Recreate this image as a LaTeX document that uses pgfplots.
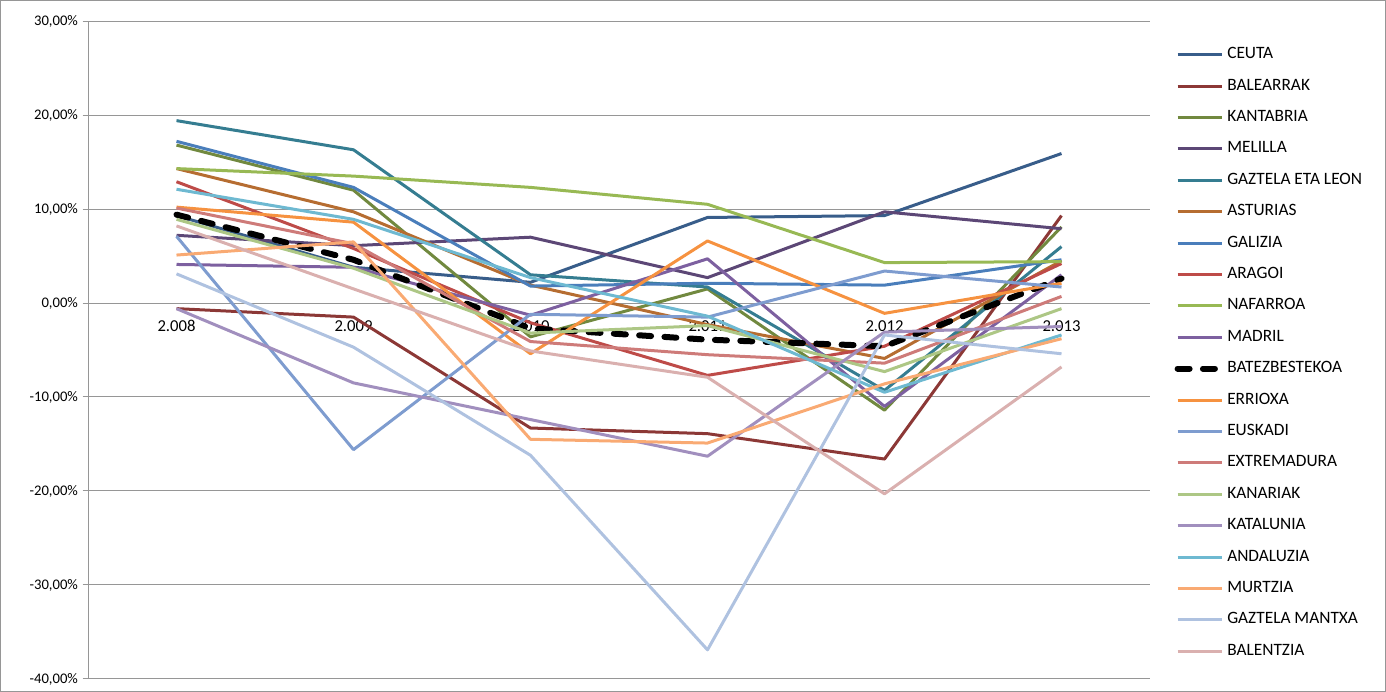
\documentclass[border=0pt]{standalone}
\usepackage{pgfplots}
\pgfplotsset{compat=1.18}
\usepackage{fontspec}
\setmainfont{Carlito}

\definecolor{ceuta}{HTML}{385D8A}
\definecolor{balearrak}{HTML}{8C3836}
\definecolor{kantabria}{HTML}{71893F}
\definecolor{melilla}{HTML}{5C4776}
\definecolor{gleon}{HTML}{357D91}
\definecolor{asturias}{HTML}{B66D31}
\definecolor{galizia}{HTML}{4A7EBB}
\definecolor{aragoi}{HTML}{BE4B48}
\definecolor{nafarroa}{HTML}{98B954}
\definecolor{madril}{HTML}{7D60A0}
\definecolor{errioxa}{HTML}{F69240}
\definecolor{euskadi}{HTML}{7E9CCF}
\definecolor{extremadura}{HTML}{CE7B79}
\definecolor{kanariak}{HTML}{ADC785}
\definecolor{katalunia}{HTML}{A18FBE}
\definecolor{andaluzia}{HTML}{6EB9D1}
\definecolor{murtzia}{HTML}{F9AA73}
\definecolor{gmantxa}{HTML}{AFC2E0}
\definecolor{balentzia}{HTML}{DAB0AF}
\definecolor{gridgray}{HTML}{969696}

\begin{document}
\begin{tikzpicture}[font=\fontsize{11}{13}\selectfont]
\draw[gridgray, line width=0.75pt] (0.375pt,0.375pt) rectangle (1039.125pt,518.625pt);
\begin{axis}[
  at={(66pt,9.75pt)}, anchor=south west,
  scale only axis, width=796.5pt, height=493.5pt,
  xmin=-0.5, xmax=5.5, ymin=-40, ymax=30,
  axis x line*=middle, axis y line*=left,
  axis line style={-, draw=gridgray, line width=0.75pt},
  xtick={0,...,5},
  xticklabels={2.008,2.009,2.010,2.011,2.012,2.013},
  xticklabel style={font=\fontsize{12.5}{14}\selectfont, yshift=-5.5pt},
  xtick style={draw=none},
  ytick={-40,-30,...,30},
  yticklabels={{-40,00\%},{-30,00\%},{-20,00\%},{-10,00\%},{0,00\%},{10,00\%},{20,00\%},{30,00\%}},
  yticklabel style={font=\fontsize{11}{13}\selectfont},
  ytick style={draw=gridgray, line width=0.75pt},
  tick align=outside, major tick length=4pt,
  ymajorgrids, grid style={draw=gridgray, line width=0.75pt},
  every axis plot/.append style={line width=2.25pt, line join=round},
  legend cell align=left,
  legend image code/.code={\draw[#1] (0pt,0pt) -- (33pt,0pt);},
  legend style={at={(1.0229,0.9635)}, anchor=north west, draw=none, fill=none,
    inner sep=0pt, row sep=9.55pt, font=\fontsize{13}{15}\selectfont,
    nodes={inner sep=2pt, text height=8pt, text depth=2pt},
    /tikz/every even column/.append style={column sep=0.5pt}},
]
\addplot[ceuta] coordinates {(0,9.3) (1,3.8) (2,2.2) (3,9.1) (4,9.3) (5,15.9)};
\addlegendentry{CEUTA}
\addplot[balearrak] coordinates {(0,-0.6) (1,-1.5) (2,-13.3) (3,-13.9) (4,-16.6) (5,9.3)};
\addlegendentry{BALEARRAK}
\addplot[kantabria] coordinates {(0,16.8) (1,12.0) (2,-3.6) (3,1.5) (4,-11.4) (5,8.1)};
\addlegendentry{KANTABRIA}
\addplot[melilla] coordinates {(0,7.2) (1,6.1) (2,7.0) (3,2.7) (4,9.7) (5,7.9)};
\addlegendentry{MELILLA}
\addplot[gleon] coordinates {(0,19.4) (1,16.3) (2,3.0) (3,1.7) (4,-9.3) (5,6.0)};
\addlegendentry{GAZTELA ETA LEON}
\addplot[asturias] coordinates {(0,14.3) (1,9.7) (2,1.9) (3,-2.3) (4,-5.9) (5,4.5)};
\addlegendentry{ASTURIAS}
\addplot[galizia] coordinates {(0,17.2) (1,12.3) (2,1.8) (3,2.1) (4,1.9) (5,4.6)};
\addlegendentry{GALIZIA}
\addplot[aragoi] coordinates {(0,12.9) (1,5.8) (2,-2.1) (3,-7.7) (4,-4.6) (5,4.2)};
\addlegendentry{ARAGOI}
\addplot[nafarroa] coordinates {(0,14.3) (1,13.5) (2,12.3) (3,10.5) (4,4.3) (5,4.4)};
\addlegendentry{NAFARROA}
\addplot[madril] coordinates {(0,4.1) (1,3.8) (2,-1.3) (3,4.7) (4,-11.0) (5,3.0)};
\addlegendentry{MADRIL}
\addplot[black, line width=4.5pt, line cap=round, dash pattern=on 9pt off 10pt] coordinates {(0,9.4) (1,4.6) (2,-2.7) (3,-3.9) (4,-4.6) (5,2.6)};
\addlegendentry{BATEZBESTEKOA}
\addplot[errioxa] coordinates {(0,10.2) (1,8.6) (2,-5.4) (3,6.6) (4,-1.1) (5,2.1)};
\addlegendentry{ERRIOXA}
\addplot[euskadi] coordinates {(0,7.1) (1,-15.6) (2,-1.2) (3,-1.5) (4,3.4) (5,1.7)};
\addlegendentry{EUSKADI}
\addplot[extremadura] coordinates {(0,10.1) (1,6.3) (2,-4.1) (3,-5.5) (4,-6.4) (5,0.7)};
\addlegendentry{EXTREMADURA}
\addplot[kanariak] coordinates {(0,8.9) (1,3.7) (2,-3.2) (3,-2.4) (4,-7.3) (5,-0.6)};
\addlegendentry{KANARIAK}
\addplot[katalunia] coordinates {(0,-0.6) (1,-8.5) (2,-12.4) (3,-16.3) (4,-3.1) (5,-2.5)};
\addlegendentry{KATALUNIA}
\addplot[andaluzia] coordinates {(0,12.1) (1,8.9) (2,2.7) (3,-1.4) (4,-9.5) (5,-3.4)};
\addlegendentry{ANDALUZIA}
\addplot[murtzia] coordinates {(0,5.1) (1,6.5) (2,-14.5) (3,-14.9) (4,-8.6) (5,-3.8)};
\addlegendentry{MURTZIA}
\addplot[gmantxa] coordinates {(0,3.1) (1,-4.7) (2,-16.2) (3,-36.9) (4,-3.4) (5,-5.4)};
\addlegendentry{GAZTELA MANTXA}
\addplot[balentzia] coordinates {(0,8.2) (1,1.5) (2,-5.1) (3,-7.9) (4,-20.3) (5,-6.8)};
\addlegendentry{BALENTZIA}
\end{axis}
\end{tikzpicture}
\end{document}
